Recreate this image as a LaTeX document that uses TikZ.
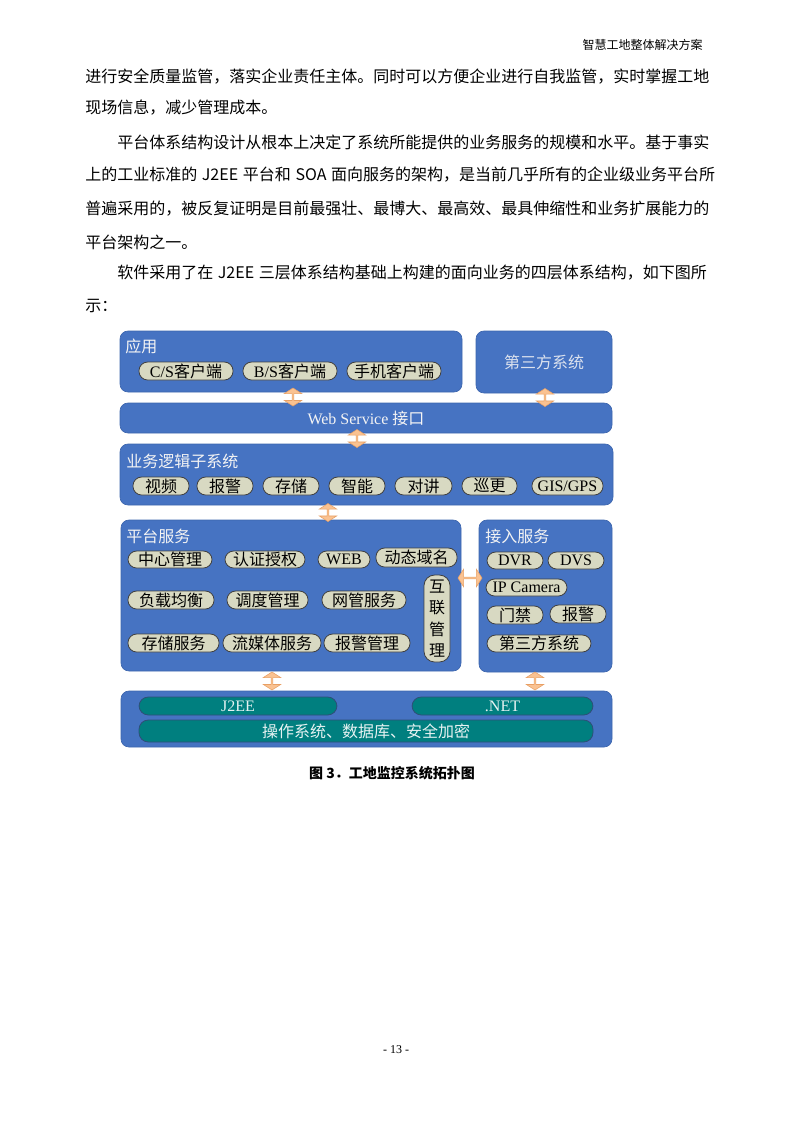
\documentclass[tikz,border=0pt]{standalone}
\usepackage{fontspec}
\setmainfont{Liberation Serif}
\newfontfamily\cjk{Noto Sans CJK SC}
\usetikzlibrary{shapes.arrows}
\XeTeXlinebreaklocale "zh"
\XeTeXlinebreakskip=0pt plus 3pt
\definecolor{boxblue}{HTML}{4673C2}
\definecolor{boxedge}{HTML}{3D66AE}
\definecolor{pillfill}{HTML}{D8D9C2}
\definecolor{pilledge}{HTML}{404040}
\definecolor{tealfill}{HTML}{007F7F}
\definecolor{tealedge}{HTML}{2E4F78}
\definecolor{tealtext}{HTML}{E6F2F2}
\definecolor{arrfill}{HTML}{FAC291}
\definecolor{arredge}{HTML}{E8A065}
\definecolor{lighttext}{HTML}{F4F4F4}
\definecolor{thirdtext}{HTML}{DCE2EE}
\newcommand\bodyfont{\cjk\fontsize{12}{14}\selectfont\spaceskip=3.5pt\relax}
\newcommand\dgfont{\fontsize{12}{14}\selectfont}
\newcommand\bx[7]{\node[#6, minimum width={(#4-#2)*0.75pt}, minimum height={(#5-#3)*0.75pt}] (#1) at ({(#2+#4)/2},{(#3+#5)/2}) {#7};}
\tikzset{
  bigbox/.style={fill=boxblue, draw=boxedge, line width=0.5pt, rounded corners=6pt, inner sep=0pt, font=\dgfont},
  pill/.style={fill=pillfill, draw=pilledge, line width=0.6pt, rounded corners=6.5pt, inner sep=0pt, font=\dgfont, text=black},
  tealpill/.style={fill=tealfill, draw=tealedge, line width=0.6pt, rounded corners=7pt, inner sep=0pt, font=\dgfont, text=tealtext},
  boxtitle/.style={anchor=west, inner sep=0pt, font=\cjk\dgfont, text=lighttext},
  bodyline/.style={anchor=west, inner sep=0pt, font=\bodyfont, text=black},
  blockarr/.style={shape=double arrow, fill=arrfill, draw=arredge, line width=0.4pt, minimum width=13pt, double arrow head extend=1.6pt, double arrow tip angle=115, inner sep=0pt},
  varr/.style={blockarr, shape border rotate=90, minimum height=13.5pt},
  harr/.style={blockarr, minimum height=18pt}
}
\begin{document}
\begin{tikzpicture}[x=0.75pt,y=-0.75pt]
\fill[white] (0,0) rectangle (793,1122);
\useasboundingbox (0,0) rectangle (793,1122);
% header
\node[anchor=east, inner sep=0pt, font=\cjk\fontsize{9}{11}\selectfont] (hdr) at (703,45) {智慧工地整体解决方案};
% body text
\node[bodyline] (l1) at (85,77) {\makebox[467.25pt][s]{进行安全质量监管，落实企业责任主体。同时可以方便企业进行自我监管，实时掌握工地}};
\node[bodyline] (l2) at (85,108) {现场信息，减少管理成本。};
\node[bodyline] (l3) at (117,142) {\makebox[443.25pt][s]{平台体系结构设计从根本上决定了系统所能提供的业务服务的规模和水平。基于事实}};
\node[bodyline] (l4) at (85,175) {\makebox[467.25pt][s]{上的工业标准的 J2EE 平台和 SOA 面向服务的架构，是当前几乎所有的企业级业务平台所}};
\node[bodyline] (l5) at (85,209) {\makebox[467.25pt][s]{普遍采用的，被反复证明是目前最强壮、最博大、最高效、最具伸缩性和业务扩展能力的}};
\node[bodyline] (l6) at (85,242) {平台架构之一。};
\node[bodyline] (l7) at (117,273) {\makebox[443.25pt][s]{软件采用了在 J2EE 三层体系结构基础上构建的面向业务的四层体系结构，如下图所}};
\node[bodyline] (l8) at (85,306) {示：};
% big boxes
\bx{app}{120}{331}{462}{392}{bigbox}{}
\bx{third}{476}{331}{612}{393}{bigbox, text=thirdtext, font=\cjk\dgfont}{第三方系统}
\bx{ws}{120}{403}{612}{433}{bigbox, text=lighttext}{Web Service {\cjk 接口}}
\bx{biz}{120}{444}{613}{505}{bigbox}{}
\bx{plat}{121}{520}{461}{671}{bigbox}{}
\bx{acc}{479}{520}{612}{672}{bigbox}{}
\bx{base}{121}{691}{612}{747}{bigbox}{}
% titles
\node[boxtitle] (tapp) at (125,346) {应用};
\node[boxtitle] (tbiz) at (126,461) {业务逻辑子系统};
\node[boxtitle] (tplat) at (126,536) {平台服务};
\node[boxtitle] (tacc) at (485,536) {接入服务};
% application pills
\bx{cs}{139}{362}{233}{380}{pill}{C/S{\cjk 客户端}}
\bx{bs}{243}{362}{337}{380}{pill}{B/S{\cjk 客户端}}
\bx{mob}{347}{362}{441}{380}{pill}{\cjk 手机客户端}
% business logic pills
\bx{b1}{133}{477}{189}{495}{pill}{\cjk 视频}
\bx{b2}{197}{477}{253}{495}{pill}{\cjk 报警}
\bx{b3}{263}{477}{319}{495}{pill}{\cjk 存储}
\bx{b4}{329}{477}{385}{495}{pill}{\cjk 智能}
\bx{b5}{395}{477}{452}{495}{pill}{\cjk 对讲}
\bx{b6}{462}{477}{517}{495}{pill}{\cjk 巡更}
\bx{b7}{532}{477}{603}{495}{pill}{GIS/GPS}
% platform pills
\bx{p1}{128}{551}{212}{568}{pill}{\cjk 中心管理}
\bx{p2}{225}{551}{305}{568}{pill}{\cjk 认证授权}
\bx{p3}{318}{551}{370}{568}{pill}{WEB}
\bx{p4}{376}{548}{457}{567}{pill}{\cjk 动态域名}
\bx{p5}{128}{591}{214}{609}{pill}{\cjk 负载均衡}
\bx{p6}{227}{591}{308}{609}{pill}{\cjk 调度管理}
\bx{p7}{322}{591}{406}{609}{pill}{\cjk 网管服务}
\bx{p8}{128}{634}{219}{652}{pill}{\cjk 存储服务}
\bx{p9}{223}{634}{321}{652}{pill}{\cjk 流媒体服务}
\bx{p10}{324}{634}{410}{652}{pill}{\cjk 报警管理}
\bx{p11}{424}{575}{450}{662}{pill, align=center, font=\cjk\fontsize{12}{16}\selectfont, rounded corners=8pt}{互\\联\\管\\理}
% access pills
\bx{a1}{487}{552}{543}{569}{pill}{DVR}
\bx{a2}{548}{552}{604}{569}{pill}{DVS}
\bx{a3}{486}{579}{567}{596}{pill}{IP Camera}
\bx{a4}{487}{606}{543}{624}{pill}{\cjk 门禁}
\bx{a5}{550}{605}{606}{623}{pill}{\cjk 报警}
\bx{a6}{487}{635}{591}{652}{pill}{\cjk 第三方系统}
% base
\bx{j2ee}{139}{697}{337}{715}{tealpill}{J2EE}
\bx{net}{412}{697}{593}{715}{tealpill}{.NET}
\bx{os}{139}{720}{593}{742}{tealpill, font=\cjk\dgfont}{操作系统、数据库、安全加密}
% block arrows
\node[varr] (ar1) at (293,397) {};
\node[varr] (ar2) at (545,397.5) {};
\node[varr] (ar3) at (357,438.5) {};
\node[varr] (ar4) at (328,512.5) {};
\node[varr] (ar5) at (272,681) {};
\node[varr] (ar6) at (535,681) {};
\node[harr] (ar7) at (470,578) {};
% caption
\node[inner sep=0pt, font=\cjk\bfseries\fontsize{10.5}{12}\selectfont] (cap) at (392,773) {图 3．工地监控系统拓扑图};
% page number
\node[inner sep=0pt, font=\fontsize{9}{11}\selectfont] (pg) at (396,1050) {- 13 -};
\end{tikzpicture}
\end{document}
